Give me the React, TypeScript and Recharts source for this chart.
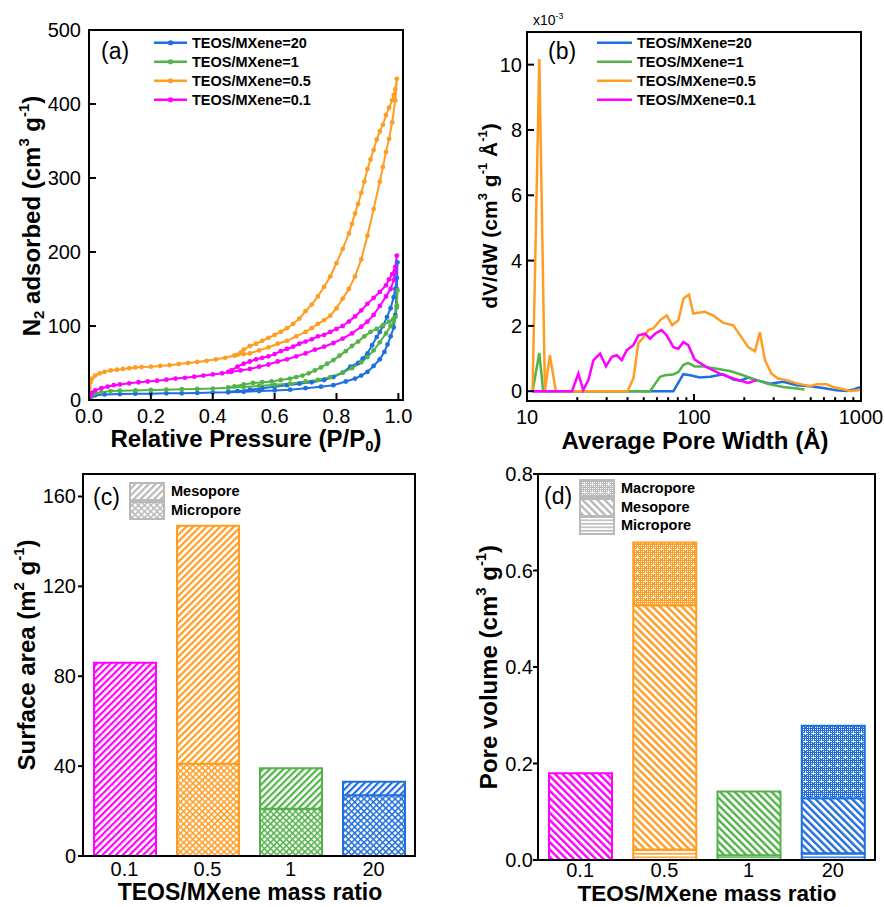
import { Fragment } from "react"
import { Bar, BarChart, Cell, Line, LineChart, XAxis, YAxis } from "recharts"

const FONT = '"Liberation Sans", Arial, Helvetica, sans-serif'

const BLUE = "#1f6fde"
const GREEN = "#52b448"
const ORANGE = "#ff9d22"
const PINK = "#ff00ff"
const GRAY = "#b9b9b9"

// (a) N2 isotherms, [P/P0, cm3/g], adsorption then desorption
const ADS_20: [number, number][] = [
  [0.001, 2], [0.005, 4], [0.01, 5.5], [0.02, 6.5], [0.05, 7.5], [0.1, 8], [0.15, 8.5], [0.2, 8.5],
  [0.25, 9], [0.3, 9], [0.35, 9.5], [0.4, 10], [0.45, 10.5], [0.5, 11], [0.55, 12], [0.6, 13],
  [0.65, 14], [0.7, 16], [0.75, 18], [0.79, 20], [0.83, 25], [0.86, 29], [0.88, 33], [0.9, 38],
  [0.92, 46], [0.94, 55], [0.955, 65], [0.965, 75], [0.975, 86], [0.985, 98], [0.99, 115], [0.995, 150], [0.997, 186],
]
const DES_20: [number, number][] = [
  [0.995, 165], [0.99, 150], [0.985, 139], [0.975, 124], [0.963, 112], [0.95, 100], [0.94, 92], [0.93, 85],
  [0.915, 74], [0.9, 63], [0.885, 56], [0.87, 50], [0.845, 45], [0.82, 37], [0.79, 31], [0.76, 27],
  [0.72, 24], [0.68, 22], [0.64, 20], [0.6, 18], [0.56, 16], [0.52, 14], [0.48, 12], [0.45, 11],
]
const ADS_1: [number, number][] = [
  [0.001, 3], [0.005, 6], [0.01, 8], [0.02, 9], [0.04, 10.5], [0.07, 12], [0.1, 12.5], [0.15, 13],
  [0.2, 13.5], [0.25, 14], [0.3, 14.5], [0.35, 15], [0.4, 15.5], [0.45, 16.5], [0.5, 17.5], [0.55, 19],
  [0.6, 20.5], [0.65, 22], [0.7, 25], [0.74, 27], [0.78, 31], [0.82, 37], [0.85, 43], [0.88, 51],
  [0.9, 58], [0.92, 67], [0.94, 78], [0.96, 90], [0.975, 100], [0.985, 106], [0.99, 112], [0.995, 128], [0.997, 148],
]
const DES_1: [number, number][] = [
  [0.995, 125], [0.99, 112], [0.985, 110], [0.97, 106], [0.95, 101], [0.93, 96], [0.91, 92], [0.89, 86],
  [0.87, 79], [0.85, 73], [0.83, 66], [0.81, 60], [0.79, 54], [0.77, 49], [0.75, 44], [0.73, 40],
  [0.71, 36], [0.69, 33], [0.67, 31], [0.65, 29], [0.62, 27], [0.59, 25], [0.56, 24], [0.53, 23],
  [0.5, 21], [0.47, 18.5], [0.45, 17],
]
const ADS_05: [number, number][] = [
  [0.001, 16], [0.005, 24], [0.01, 29], [0.02, 33], [0.035, 36], [0.05, 38], [0.07, 40], [0.09, 41],
  [0.11, 42], [0.13, 43], [0.15, 44], [0.17, 44.5], [0.2, 45], [0.23, 46], [0.26, 47], [0.29, 48.5],
  [0.32, 50], [0.35, 51.5], [0.38, 53], [0.41, 55], [0.44, 57], [0.47, 60], [0.5, 62], [0.52, 63],
  [0.55, 67], [0.58, 71], [0.61, 76], [0.64, 80], [0.67, 86], [0.7, 92], [0.72, 97], [0.74, 103],
  [0.76, 108], [0.78, 114], [0.8, 124], [0.82, 137], [0.84, 150], [0.86, 167], [0.88, 190], [0.9, 222],
  [0.92, 258], [0.94, 295], [0.95, 315], [0.96, 335], [0.97, 353], [0.98, 375], [0.99, 405], [0.995, 434],
]
const DES_05: [number, number][] = [
  [0.99, 420], [0.985, 412], [0.98, 405], [0.97, 395], [0.96, 385], [0.95, 372], [0.94, 363], [0.93, 352],
  [0.92, 338], [0.91, 325], [0.9, 312], [0.89, 295], [0.88, 280], [0.87, 265], [0.86, 252], [0.85, 238],
  [0.84, 225], [0.82, 204], [0.8, 185], [0.78, 167], [0.76, 153], [0.74, 140], [0.72, 129], [0.7, 120],
  [0.68, 110], [0.66, 103], [0.64, 97], [0.62, 92], [0.6, 88], [0.58, 84], [0.56, 80], [0.54, 76],
  [0.52, 73], [0.5, 68], [0.49, 64], [0.48, 61], [0.47, 60],
]
const ADS_01: [number, number][] = [
  [0.001, 4], [0.005, 8], [0.01, 10], [0.02, 13], [0.04, 16], [0.06, 18], [0.08, 20], [0.1, 21],
  [0.13, 22.5], [0.16, 24], [0.19, 25], [0.22, 26], [0.25, 27.5], [0.28, 29], [0.31, 30], [0.34, 31.5],
  [0.37, 33], [0.4, 34.5], [0.43, 36], [0.46, 38], [0.49, 40], [0.52, 42], [0.55, 45], [0.58, 48],
  [0.61, 52], [0.64, 55], [0.67, 59], [0.7, 63], [0.73, 68], [0.76, 72], [0.79, 77], [0.82, 83],
  [0.85, 90], [0.88, 99], [0.9, 106], [0.92, 115], [0.94, 127], [0.96, 140], [0.975, 150], [0.985, 162],
  [0.99, 172], [0.995, 195],
]
const DES_01: [number, number][] = [
  [0.99, 180], [0.98, 170], [0.97, 163], [0.96, 155], [0.94, 146], [0.92, 138], [0.9, 130], [0.88, 121],
  [0.86, 113], [0.84, 106], [0.82, 100], [0.8, 96], [0.78, 92], [0.76, 88], [0.74, 86], [0.72, 82],
  [0.7, 79], [0.68, 76], [0.66, 72], [0.64, 69], [0.62, 66], [0.6, 62], [0.58, 59], [0.56, 57],
  [0.54, 55], [0.52, 52], [0.5, 49], [0.48, 45], [0.46, 40], [0.45, 38],
]

// (b) pore size distribution, [width in Å, dV/dW x10^-3]
const PSD_20: [number, number][] = [
  [10.8, 0], [75.3, 0], [86.3, 0.52], [94.7, 0.49], [103.9, 0.44], [108, 0.42], [125, 0.44], [150, 0.52],
  [172, 0.36], [189, 0.32], [211, 0.42], [237, 0.34], [284, 0.23], [342, 0.29], [411, 0.18], [494, 0.15],
  [593, 0.1], [712, 0.03], [820, 0.01], [900, 0.05], [960, 0.11], [1000, 0.12],
]
const PSD_1: [number, number][] = [
  [10.8, 0], [11.85, 1.17], [12.5, 0], [54.5, 0], [62.6, 0.44], [66.9, 0.49], [75, 0.51], [80.6, 0.59],
  [86.3, 0.8], [92, 0.87], [101, 0.76], [113, 0.76], [137, 0.69], [164, 0.62], [197, 0.49], [237, 0.34],
  [284, 0.21], [342, 0.13], [411, 0.08], [460, 0.05],
]
const PSD_05: [number, number][] = [
  [10.8, 0], [11.85, 10.17], [12.8, 0], [13.7, 1.1], [14.9, 0], [40, 0], [43.4, 0.4], [46.4, 1.47],
  [49.9, 1.65], [53.2, 1.87], [57, 1.92], [62.5, 2.17], [68.7, 2.32], [74, 2.02], [80.6, 2.17], [86.6, 2.84],
  [93.3, 2.96], [99, 2.38], [116, 2.43], [130, 2.32], [150, 2.09], [172, 2.02], [189, 1.71], [211, 1.35],
  [232, 1.22], [248, 1.81], [266, 0.95], [291, 0.54], [318, 0.39], [358, 0.34], [413, 0.24], [494, 0.15],
  [544, 0.21], [622, 0.21], [682, 0.13], [782, 0.06], [860, 0.01], [960, 0.03], [1000, 0.06],
]
const PSD_01: [number, number][] = [
  [10.8, 0], [18.6, 0], [20.3, 0.54], [21.7, 0.03], [23.3, 0.34], [25, 0.95], [27.4, 1.15], [29.7, 0.76],
  [32.2, 1.05], [34.5, 1.1], [36.9, 0.95], [39.5, 1.25], [43.3, 1.41], [46.5, 1.71], [50.9, 1.76], [54.5, 1.61],
  [58.4, 1.76], [64, 1.87], [68.6, 1.71], [75.3, 1.35], [80.6, 1.3], [86.3, 1.51], [92.4, 1.41], [101, 0.97],
  [119, 0.74], [143, 0.54], [172, 0.39], [211, 0.25], [237, 0.34],
]

const P_TICKS = [0, 0.2, 0.4, 0.6, 0.8, 1.0]
const V_TICKS = [0, 100, 200, 300, 400, 500]
const W_MAJOR = [10, 100, 1000]
const W_MINOR = [20, 30, 40, 50, 60, 70, 80, 90, 200, 300, 400, 500, 600, 700, 800, 900]
const D_TICKS = [0, 2, 4, 6, 8, 10]

// (c), (d) bars
const RATIOS = ["0.1", "0.5", "1", "20"]
const SA_MICRO = [0, 41, 21, 27]
const SA_MESO = [86, 106, 18, 6]
const SA_TICKS = [0, 40, 80, 120, 160]
const PV_MICRO = [0, 0.022, 0.01, 0.014]
const PV_MESO = [0.18, 0.506, 0.132, 0.114]
const PV_MACRO = [0, 0.13, 0, 0.15]
const PV_TICKS = [0, 0.2, 0.4, 0.6, 0.8]

const RATIO_COLORS = [PINK, ORANGE, GREEN, BLUE]
const RATIO_KEYS = ["pink", "orange", "green", "blue"]
const SWATCH: Record<string, string> = { pink: PINK, orange: ORANGE, green: GREEN, blue: BLUE, gray: GRAY }

const SERIES = [
  { name: "TEOS/MXene=20", color: BLUE, ads: ADS_20, des: DES_20, psd: PSD_20 },
  { name: "TEOS/MXene=1", color: GREEN, ads: ADS_1, des: DES_1, psd: PSD_1 },
  { name: "TEOS/MXene=0.5", color: ORANGE, ads: ADS_05, des: DES_05, psd: PSD_05 },
  { name: "TEOS/MXene=0.1", color: PINK, ads: ADS_01, des: DES_01, psd: PSD_01 },
]

const AXIS = { stroke: "#000", strokeWidth: 2 }

const toPts = (arr: [number, number][]) => arr.map(([x, y]) => ({ x, y }))

function XTick(props: any) {
  const { x, y, payload, len = 0, dy, fmt, major } = props
  const v = payload.value
  const isMajor = major ? major.includes(v) : true
  const l = isMajor ? len : len * 0.55
  return (
    <g>
      {l > 0 && <line x1={x} x2={x} y1={y} y2={y - l} stroke="#000" strokeWidth={2} />}
      {isMajor && (
        <text x={x} y={y + dy} textAnchor="middle" fontSize={20} fontFamily={FONT} fill="#000">
          {fmt ? fmt(v) : v}
        </text>
      )}
    </g>
  )
}

function YTick(props: any) {
  const { x, y, payload, len, gap, fmt } = props
  const v = payload.value
  return (
    <g>
      <line x1={x} x2={x + len} y1={y} y2={y} stroke="#000" strokeWidth={2} />
      <text x={x - gap} y={y + 7} textAnchor="end" fontSize={20} fontFamily={FONT} fill="#000">
        {fmt ? fmt(v) : v}
      </text>
    </g>
  )
}

function Txt({
  x,
  y,
  children,
  size = 20,
  bold,
  anchor = "start",
  rotate,
}: {
  x: number
  y: number
  children: React.ReactNode
  size?: number
  bold?: boolean
  anchor?: "start" | "middle"
  rotate?: boolean
}) {
  const tx = anchor === "middle" ? "-50%" : "0"
  return (
    <div
      style={{
        position: "absolute",
        left: x,
        top: y,
        transform: `translate(${tx}, -50%)${rotate ? " rotate(-90deg)" : ""}`,
        fontSize: size,
        fontWeight: bold ? 700 : 400,
        whiteSpace: "nowrap",
        lineHeight: 0.85,
      }}
    >
      {children}
    </div>
  )
}

const Sup = ({ children }: { children: React.ReactNode }) => (
  <span style={{ fontSize: "0.62em", verticalAlign: "0.75em" }}>{children}</span>
)
const Sub = ({ children }: { children: React.ReactNode }) => (
  <span style={{ fontSize: "0.62em", verticalAlign: "-0.3em" }}>{children}</span>
)

// plot-area box: closes the frame on the top and right sides
function Frame({ l, t, r, b }: { l: number; t: number; r: number; b: number }) {
  return (
    <div
      style={{
        position: "absolute",
        left: l - 1,
        top: t - 1,
        width: r - l + 2,
        height: b - t + 2,
        border: "2px solid #000",
        boxSizing: "border-box",
        pointerEvents: "none",
      }}
    />
  )
}

function PatternDefs() {
  return (
    <svg width={0} height={0} style={{ position: "absolute" }} aria-hidden>
      <defs>
        {Object.entries(SWATCH).map(([k, c]) => (
          <Fragment key={k}>
            <pattern id={`up-${k}`} width={4.8} height={4.8} patternUnits="userSpaceOnUse" patternTransform="rotate(45)">
              <rect width={4.8} height={4.8} fill="#fff" />
              <rect width={2.2} height={4.8} fill={c} />
            </pattern>
            <pattern id={`down-${k}`} width={5.2} height={5.2} patternUnits="userSpaceOnUse" patternTransform="rotate(-45)">
              <rect width={5.2} height={5.2} fill="#fff" />
              <rect width={2.4} height={5.2} fill={c} />
            </pattern>
            <pattern id={`cross-${k}`} width={4.4} height={4.4} patternUnits="userSpaceOnUse" patternTransform="rotate(45)">
              <rect width={4.4} height={4.4} fill="#fff" />
              <rect width={1.5} height={4.4} fill={c} />
              <rect width={4.4} height={1.5} fill={c} />
            </pattern>
            <pattern id={`hline-${k}`} width={4} height={3.5} patternUnits="userSpaceOnUse">
              <rect width={4} height={3.5} fill="#fff" />
              <rect width={4} height={1.5} fill={c} />
            </pattern>
            <pattern id={`dots-${k}`} width={8} height={8} patternUnits="userSpaceOnUse">
              <rect width={8} height={8} fill={c} />
              <rect x={1} y={1} width={1} height={1} fill="#fff" />
              <rect x={3} y={1} width={1} height={1} fill="#fff" />
              <rect x={5} y={1} width={1} height={1} fill="#fff" />
              <rect x={7} y={1} width={1} height={1} fill="#fff" />
              <rect x={1} y={3} width={1} height={1} fill="#fff" />
              <rect x={3} y={3} width={1} height={1} fill="#fff" />
              <rect x={5} y={3} width={1} height={1} fill="#fff" />
              <rect x={7} y={3} width={1} height={1} fill="#fff" />
              <rect x={1} y={5} width={1} height={1} fill="#fff" />
              <rect x={3} y={5} width={1} height={1} fill="#fff" />
              <rect x={7} y={5} width={1} height={1} fill="#fff" />
              <rect x={4} y={5} width={3} height={1} fill="#fff" />
              <rect x={5} y={4} width={1} height={3} fill="#fff" />
              <rect x={1} y={7} width={1} height={1} fill="#fff" />
              <rect x={3} y={7} width={1} height={1} fill="#fff" />
              <rect x={7} y={7} width={1} height={1} fill="#fff" />
            </pattern>
          </Fragment>
        ))}
      </defs>
    </svg>
  )
}

function LineLegend({ x, withDot, lineW }: { x: number; withDot?: boolean; lineW: number }) {
  return (
    <>
      {SERIES.map((s, i) => (
        <div
          key={s.name}
          style={{
            position: "absolute",
            left: x,
            top: 43 + i * 19,
            transform: "translateY(-50%)",
            display: "flex",
            alignItems: "center",
            gap: 5,
            fontSize: 14.5,
            fontWeight: 700,
            lineHeight: 1,
            whiteSpace: "nowrap",
          }}
        >
          <svg width={lineW} height={10}>
            <line x1={0} x2={lineW} y1={5} y2={5} stroke={s.color} strokeWidth={2.5} />
            {withDot && <circle cx={lineW / 2} cy={5} r={2.6} fill={s.color} />}
          </svg>
          {s.name}
        </div>
      ))}
    </>
  )
}

function BoxLegend({ x, y, items }: { x: number; y: number; items: { label: string; pat: string }[] }) {
  return (
    <>
      {items.map((it, i) => (
        <div
          key={it.label}
          style={{
            position: "absolute",
            left: x,
            top: y + i * 18.5,
            display: "flex",
            alignItems: "center",
            gap: 6,
            fontSize: 14.5,
            fontWeight: 700,
            lineHeight: 1,
            whiteSpace: "nowrap",
          }}
        >
          <svg width={36} height={19}>
            <rect x={1} y={1} width={34} height={17} fill={`url(#${it.pat}-gray)`} stroke={GRAY} strokeWidth={2} />
          </svg>
          {it.label}
        </div>
      ))}
    </>
  )
}

const SA_DATA = RATIOS.map((r, i) => ({ r, micro: SA_MICRO[i], meso: SA_MESO[i] }))
const PV_DATA = RATIOS.map((r, i) => ({ r, micro: PV_MICRO[i], meso: PV_MESO[i], macro: PV_MACRO[i] }))

function IsothermChart() {
  return (
    <LineChart width={440} height={460} margin={{ top: 30, right: 37, bottom: 0, left: 0 }}>
      <XAxis
        dataKey="x"
        type="number"
        domain={[0, 1.015]}
        ticks={P_TICKS}
        interval={0}
        allowDataOverflow
        height={60}
        axisLine={AXIS}
        tickLine={false}
        tickSize={0}
        tickMargin={0}
        tick={(p: any) => <XTick {...p} len={7} dy={23} fmt={(v: number) => v.toFixed(1)} />}
      />
      <YAxis
        type="number"
        domain={[0, 500]}
        ticks={V_TICKS}
        interval={0}
        width={89}
        axisLine={AXIS}
        tickLine={false}
        tickSize={0}
        tickMargin={0}
        tick={(p: any) => <YTick {...p} len={7} gap={8} />}
      />
      {SERIES.map((s) => (
        <Line
          key={s.name}
          data={toPts([...s.ads, ...s.des])}
          dataKey="y"
          type="linear"
          stroke={s.color}
          strokeWidth={2}
          dot={{ r: 2.4, fill: s.color, stroke: s.color, strokeWidth: 0 }}
          isAnimationActive={false}
        />
      ))}
    </LineChart>
  )
}

function PsdChart() {
  return (
    <LineChart width={445} height={460} margin={{ top: 32, right: 24, bottom: 0, left: 0 }}>
      <XAxis
        dataKey="x"
        type="number"
        scale="log"
        domain={[10, 1000]}
        ticks={[...W_MAJOR, ...W_MINOR].sort((a, b) => a - b)}
        interval={0}
        allowDataOverflow
        height={59}
        axisLine={AXIS}
        tickLine={false}
        tickSize={0}
        tickMargin={0}
        tick={(p: any) => <XTick {...p} len={7} dy={23} major={W_MAJOR} />}
      />
      <YAxis
        type="number"
        domain={[-0.3, 11]}
        ticks={D_TICKS}
        interval={0}
        allowDataOverflow
        width={87}
        axisLine={AXIS}
        tickLine={false}
        tickSize={0}
        tickMargin={0}
        tick={(p: any) => <YTick {...p} len={7} gap={5} />}
      />
      {SERIES.map((s) => (
        <Line
          key={s.name}
          data={toPts(s.psd)}
          dataKey="y"
          type="linear"
          stroke={s.color}
          strokeWidth={2.5}
          dot={false}
          isAnimationActive={false}
        />
      ))}
    </LineChart>
  )
}

function SurfaceChart() {
  return (
    <BarChart width={440} height={467} data={SA_DATA} margin={{ top: 34, right: 25, bottom: 0, left: 0 }}>
      <XAxis
        dataKey="r"
        height={51}
        axisLine={AXIS}
        tickLine={false}
        tickSize={0}
        tickMargin={0}
        interval={0}
        tick={(p: any) => <XTick {...p} dy={20} />}
      />
      <YAxis
        type="number"
        domain={[0, 170]}
        ticks={SA_TICKS}
        interval={0}
        width={83}
        axisLine={AXIS}
        tickLine={false}
        tickSize={0}
        tickMargin={0}
        tick={(p: any) => <YTick {...p} len={-5} gap={7} />}
      />
      <Bar dataKey="micro" stackId="s" barSize={62} strokeWidth={2} isAnimationActive={false}>
        {RATIOS.map((r, i) => (
          <Cell key={r} fill={`url(#cross-${RATIO_KEYS[i]})`} stroke={RATIO_COLORS[i]} />
        ))}
      </Bar>
      <Bar dataKey="meso" stackId="s" barSize={62} strokeWidth={2} isAnimationActive={false}>
        {RATIOS.map((r, i) => (
          <Cell key={r} fill={`url(#up-${RATIO_KEYS[i]})`} stroke={RATIO_COLORS[i]} />
        ))}
      </Bar>
    </BarChart>
  )
}

function VolumeChart() {
  return (
    <BarChart width={445} height={467} data={PV_DATA} margin={{ top: 34, right: 10, bottom: 0, left: 0 }}>
      <XAxis
        dataKey="r"
        height={47}
        axisLine={AXIS}
        tickLine={false}
        tickSize={0}
        tickMargin={0}
        interval={0}
        tick={(p: any) => <XTick {...p} dy={17} />}
      />
      <YAxis
        type="number"
        domain={[0, 0.8]}
        ticks={PV_TICKS}
        interval={0}
        width={98}
        axisLine={AXIS}
        tickLine={false}
        tickSize={0}
        tickMargin={0}
        tick={(p: any) => <YTick {...p} len={-5} gap={5} fmt={(v: number) => v.toFixed(1)} />}
      />
      <Bar dataKey="micro" stackId="s" barSize={63} strokeWidth={2} isAnimationActive={false}>
        {RATIOS.map((r, i) => (
          <Cell key={r} fill={`url(#hline-${RATIO_KEYS[i]})`} stroke={RATIO_COLORS[i]} />
        ))}
      </Bar>
      <Bar dataKey="meso" stackId="s" barSize={63} strokeWidth={2} isAnimationActive={false}>
        {RATIOS.map((r, i) => (
          <Cell key={r} fill={`url(#down-${RATIO_KEYS[i]})`} stroke={RATIO_COLORS[i]} />
        ))}
      </Bar>
      <Bar dataKey="macro" stackId="s" barSize={63} strokeWidth={2} isAnimationActive={false}>
        {RATIOS.map((r, i) => (
          <Cell key={r} fill={`url(#dots-${RATIO_KEYS[i]})`} stroke={RATIO_COLORS[i]} />
        ))}
      </Bar>
    </BarChart>
  )
}

export default function App() {
  return (
    <div
      style={{
        position: "absolute",
        left: 0,
        top: 0,
        width: 885,
        height: 907,
        background: "#fff",
        fontFamily: FONT,
        color: "#000",
        overflow: "hidden",
      }}
    >
      <PatternDefs />
      <div style={{ position: "absolute", left: 0, top: 0 }}>
        <IsothermChart />
      </div>
      <div style={{ position: "absolute", left: 440, top: 0 }}>
        <PsdChart />
      </div>
      <div style={{ position: "absolute", left: 0, top: 440 }}>
        <SurfaceChart />
      </div>
      <div style={{ position: "absolute", left: 440, top: 440 }}>
        <VolumeChart />
      </div>

      <Frame l={89} t={30} r={403} b={400} />
      <Frame l={527} t={32} r={861} b={401} />
      <Frame l={83} t={474} r={415} b={856} />
      <Frame l={538} t={474} r={875} b={860} />

      <Txt x={101} y={52} size={23}>(a)</Txt>
      <Txt x={548} y={52} size={23}>(b)</Txt>
      <Txt x={93} y={498} size={23}>(c)</Txt>
      <Txt x={544} y={497} size={23}>(d)</Txt>
      <Txt x={533} y={20} size={14}>
        x10<Sup>-3</Sup>
      </Txt>

      <LineLegend x={154} withDot lineW={33} />
      <LineLegend x={597} lineW={35} />

      <BoxLegend
        x={129}
        y={482}
        items={[
          { label: "Mesopore", pat: "up" },
          { label: "Micropore", pat: "cross" },
        ]}
      />
      <BoxLegend
        x={579}
        y={479}
        items={[
          { label: "Macropore", pat: "dots" },
          { label: "Mesopore", pat: "down" },
          { label: "Micropore", pat: "hline" },
        ]}
      />

      <Txt x={246} y={441} size={24} bold anchor="middle">
        Relative Pressure (P/P<Sub>0</Sub>)
      </Txt>
      <Txt x={32} y={216} size={24} bold anchor="middle" rotate>
        N<Sub>2</Sub> adsorbed (cm<Sup>3</Sup> g<Sup>-1</Sup>)
      </Txt>
      <Txt x={695} y={441} size={24} bold anchor="middle">
        Average Pore Width (Å)
      </Txt>
      <Txt x={488} y={216} size={21} bold anchor="middle" rotate>
        dV/dW (cm<Sup>3</Sup> g<Sup>-1</Sup> Å<Sup>-1</Sup>)
      </Txt>
      <Txt x={250} y={893} size={23} bold anchor="middle">
        TEOS/MXene mass ratio
      </Txt>
      <Txt x={25} y={655} size={24} bold anchor="middle" rotate>
        Surface area (m<Sup>2</Sup> g<Sup>-1</Sup>)
      </Txt>
      <Txt x={707} y={894} size={22.5} bold anchor="middle">
        TEOS/MXene mass ratio
      </Txt>
      <Txt x={487} y={667} size={24} bold anchor="middle" rotate>
        Pore volume (cm<Sup>3</Sup> g<Sup>-1</Sup>)
      </Txt>
    </div>
  )
}
